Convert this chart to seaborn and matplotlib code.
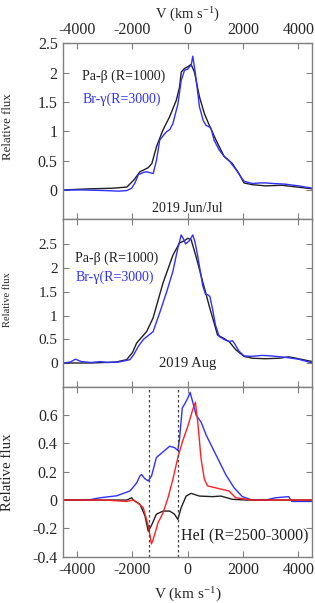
import numpy as np
import pandas as pd
import matplotlib
matplotlib.use("Agg")
import matplotlib.pyplot as plt
import seaborn as sns

# ---------------- data ----------------
# Top panel: 2019 Jun/Jul
v_pab1 = [-4500, -3500, -2700, -2200, -1950, -1730, -1430, -1300, -1130, -900, -655, -415, -300,
          -237, -118, 0, 120, 240, 420, 600, 780, 1020, 1315, 1610, 1850, 2030, 2330, 2810, 3400, 4500]
f_pab1 = [0.0, 0.02, 0.03, 0.05, 0.17, 0.31, 0.38, 0.45, 0.74, 1.02, 1.25, 1.53, 1.75,
          2.01, 2.07, 2.10, 2.14, 2.01, 1.59, 1.30, 1.10, 0.85, 0.57, 0.45, 0.28, 0.12, 0.09, 0.07, 0.08, 0.02]
v_brg1 = [-4500, -3800, -3000, -2500, -2200, -2030, -1900, -1790, -1600, -1490, -1250, -1130, -1015,
          -900, -775, -650, -540, -360, -237, -118, 0, 60, 120, 180, 276, 420, 560, 660, 760, 840,
          950, 1136, 1300, 1495, 1735, 1880, 2030, 2330, 2600, 2800, 3100, 3500, 4000, 4500]
f_brg1 = [0.0, 0.0, -0.01, -0.02, -0.01, 0.03, 0.13, 0.26, 0.30, 0.31, 0.28, 0.51, 0.85,
          0.92, 0.99, 1.03, 1.13, 1.46, 1.87, 2.04, 2.06, 2.10, 2.12, 2.28, 1.98, 1.42, 1.18, 1.10, 1.08, 1.05,
          0.85, 0.68, 0.58, 0.50, 0.35, 0.25, 0.15, 0.11, 0.12, 0.12, 0.11, 0.10, 0.07, 0.03]

# Middle panel: 2019 Aug
v_pab2 = [-4500, -3500, -2600, -2210, -2000, -1850, -1490, -1255, -900, -540, -300, -120, 0, 120, 300,
          540, 780, 1075, 1300, 1495, 1735, 2030, 2330, 2800, 3300, 3645, 4000, 4500]
f_pab2 = [0.0, 0.0, 0.02, 0.07, 0.22, 0.42, 0.66, 0.95, 1.68, 2.27, 2.53, 2.58, 2.63, 2.60, 2.24,
          1.71, 1.19, 0.59, 0.52, 0.45, 0.28, 0.14, 0.10, 0.09, 0.10, 0.13, 0.09, 0.03]
v_brg2 = [-4500, -4250, -4060, -3850, -3500, -3160, -2900, -2500, -2090, -1950, -1790, -1600, -1490,
          -1255, -1015, -775, -540, -360, -237, -160, -82, 0, 60, 180, 260, 360, 540, 640, 720, 800, 900,
          1000, 1136, 1300, 1495, 1615, 1700, 1850, 2030, 2300, 2690, 3000, 3520, 4000, 4500]
f_brg2 = [0.0, 0.02, 0.08, 0.03, 0.01, 0.03, 0.01, 0.02, 0.07, 0.18, 0.35, 0.50, 0.55,
          0.66, 1.06, 1.48, 1.93, 2.42, 2.70, 2.62, 2.51, 2.55, 2.58, 2.70, 2.55, 2.25, 1.63, 1.45, 1.44, 1.40, 1.12,
          0.80, 0.56, 0.50, 0.45, 0.47, 0.40, 0.25, 0.15, 0.14, 0.16, 0.15, 0.12, 0.08, 0.00]

# Bottom panel: HeI
v_he_blk = [-4500, -3000, -2200, -2030, -1970, -1730, -1550, -1430, -1315, -1135, -895, -655, -480,
            -360, -240, -60, 120, 420, 900, 1195, 1610, 2090, 3000, 4500]
f_he_blk = [0.0, 0.0, 0.0, 0.016, 0.0, -0.03, -0.11, -0.22, -0.18, -0.10, -0.078, -0.078, -0.10,
            -0.137, -0.054, 0.028, 0.047, 0.028, 0.024, 0.028, 0.005, 0.0, 0.0, 0.0]
v_he_blue = [-4500, -3600, -3170, -2570, -2090, -1850, -1730, -1670, -1550, -1430, -1310, -1135, -1015,
             -835, -655, -480, -360, -300, -200, -120, 0, 84, 180, 300, 480, 660, 1015, 1370, 1670,
             1970, 2330, 2810, 3170, 3645, 3760, 4500]
f_he_blue = [0.0, 0.0, 0.016, 0.03, 0.064, 0.12, 0.17, 0.18, 0.15, 0.135, 0.17, 0.30, 0.32,
             0.35, 0.38, 0.37, 0.35, 0.43, 0.65, 0.675, 0.72, 0.76, 0.69, 0.60, 0.55, 0.46, 0.32, 0.18, 0.087,
             0.024, 0.0, 0.0, 0.016, 0.024, -0.01, -0.01]
v_he_red = [-4500, -3000, -2210, -1970, -1790, -1610, -1430, -1315, -1255, -1075, -895, -715, -540,
            -360, -180, 0, 180, 275, 360, 480, 600, 715, 1135, 1490, 1730, 2330, 4500]
f_he_red = [0.0, 0.0, -0.01, 0.0, -0.024, -0.054, -0.18, -0.31, -0.28, -0.16, -0.09, 0.016, 0.146,
            0.30, 0.42, 0.52, 0.64, 0.69, 0.55, 0.29, 0.146, 0.10, 0.08, 0.064, 0.016, 0.0, 0.0]

vlines = [-1400, -340]
xticks = [-4000, -2000, 0, 2000, 4000]

# ---------------- styling ----------------
sns.set_style("ticks")
plt.rcParams['font.family'] = ['Liberation Serif', 'DejaVu Serif']
plt.rcParams['mathtext.fontset'] = 'stix'
plt.rcParams['axes.unicode_minus'] = False

BLACK = "#202020"
BLUE = "#3030ff"
RED = "#ff2020"
SPINE = "#808080"

fig = plt.figure(figsize=(3.15, 6.03), dpi=100)
L, R = 63.3 / 315, 312.3 / 315
AXW = 249.0
def box(top, bot):
    return [L, 1 - bot / 603, R - L, (bot - top) / 603]
ax1 = fig.add_axes(box(43.3, 219.3))
ax2 = fig.add_axes(box(219.3, 386.7))
ax3 = fig.add_axes(box(386.7, 556.7))

def line(ax, v, f, color, lw=1.0):
    df = pd.DataFrame({"v": v, "f": f})
    sns.lineplot(data=df, x="v", y="f", ax=ax, color=color, lw=lw, sort=False,
                 estimator=None, legend=False)

line(ax1, v_pab1, f_pab1, BLACK)
line(ax1, v_brg1, f_brg1, BLUE)
line(ax2, v_pab2, f_pab2, BLACK)
line(ax2, v_brg2, f_brg2, BLUE)
line(ax3, v_he_blue, f_he_blue, BLUE)
line(ax3, v_he_blk, f_he_blk, BLACK)
line(ax3, v_he_red, f_he_red, RED)
for xv in vlines:
    ax3.axvline(xv, color="#404040", ls=(0, (2, 2)), lw=0.9)

for ax in (ax1, ax2, ax3):
    ax.set_xlim(-4500, 4500)
    ax.set_xticks(xticks)
    ax.tick_params(direction="in", top=True, right=True, length=4, width=0.8,
                   color=SPINE, labelsize=11.5, pad=4)
    for s in ax.spines.values():
        s.set_color(SPINE)
        s.set_linewidth(1.0)
    ax.set_xlabel("")
    ax.set_ylabel("")

ax1.set_ylim(-0.5, 2.5)
ax1.set_yticks([0, 0.5, 1, 1.5, 2, 2.5])
ax1.set_yticklabels(["0", "0.5", "1", "1.5", "2", "2.5"])
ax1.tick_params(labeltop=True, labelbottom=False)
ax1.xaxis.set_label_position("top")
ax1.set_xlabel(r"V (km s$^{\mathregular{-1}}$)", fontsize=10.5, labelpad=3)

ax2.set_ylim(-0.5, 3.03)
ax2.set_yticks([0, 0.5, 1, 1.5, 2, 2.5])
ax2.set_yticklabels(["0", "0.5", "1", "1.5", "2", "2.5"])
ax2.tick_params(labelbottom=False, labelsize=11)

ax3.set_ylim(-0.4, 0.8)
ax3.set_yticks([-0.4, -0.2, 0, 0.2, 0.4, 0.6])
ax3.set_yticklabels(["-0.4", "-0.2", "0", "0.2", "0.4", "0.6"])
ax3.set_xticklabels([str(t) for t in xticks])
ax3.set_xlabel(r"V (km s$^{\mathregular{-1}}$)", fontsize=11, labelpad=4)

for ax, fs, xc, yc in ((ax1, 9.3, 8.0, 0.526), (ax2, 7.6, 7.5, 0.518), (ax3, 10.7, 8.0, 0.5)):
    ax.set_ylabel("Relative flux", fontsize=fs)
    ax.yaxis.label.set_va("center")
    ax.yaxis.set_label_coords(-(63.3 - xc) / AXW, yc)

# annotations
ax1.text(0.076, 0.81, "Pa-β (R=1000)", transform=ax1.transAxes, color=BLACK, fontsize=10, va="center")
ax1.text(0.076, 0.68, "Br-γ(R=3000)", transform=ax1.transAxes, color=BLUE, fontsize=10, va="center")
ax1.text(0.5, 0.063, "2019 Jun/Jul", transform=ax1.transAxes, color=BLACK, fontsize=10,
         ha="center", va="center")
ax2.text(0.048, 0.77, "Pa-β (R=1000)", transform=ax2.transAxes, color=BLACK, fontsize=10, va="center")
ax2.text(0.048, 0.655, "Br-γ(R=3000)", transform=ax2.transAxes, color=BLUE, fontsize=10, va="center")
ax2.text(0.5, 0.14, "2019 Aug", transform=ax2.transAxes, color=BLACK, fontsize=10.5,
         ha="center", va="center")
ax3.text(0.985, 0.12, "HeI (R=2500-3000)", transform=ax3.transAxes, color=BLACK, fontsize=11.5,
         ha="right", va="center")

fig.savefig("out.png", dpi=100)
